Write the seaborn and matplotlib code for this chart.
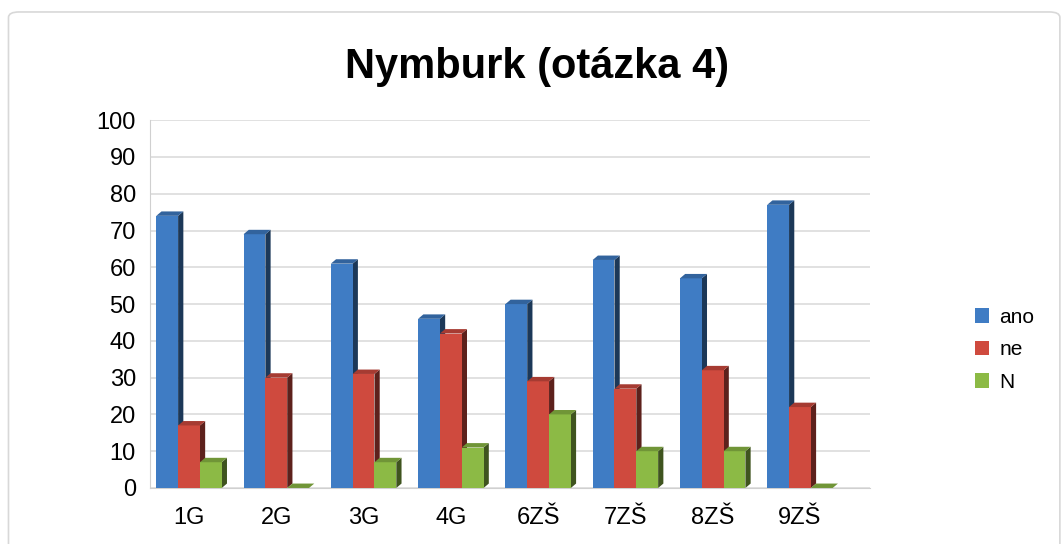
import pandas as pd
import matplotlib.pyplot as plt
import seaborn as sns
from matplotlib.patches import Polygon, FancyBboxPatch
import matplotlib.colors as mcolors

tridy = ['1G', '2G', '3G', '4G', '6ZŠ', '7ZŠ', '8ZŠ', '9ZŠ']
ano = [74, 69, 61, 46, 50, 62, 57, 77]
ne = [17, 30, 31, 42, 29, 27, 32, 22]
nevim = [7, 0, 7, 11, 20, 10, 10, 0]

serie = ['ano', 'ne', 'N']
barvy = ['#3f7cc4', '#cf4a3e', '#8cba45']

data = pd.DataFrame({'třída': tridy, 'ano': ano, 'ne': ne, 'N': nevim})
melted = pd.melt(data, id_vars=['třída'], value_vars=serie,
                 var_name='odpověď', value_name='hodnota')

sns.set_style('white')
plt.rcParams['font.family'] = ['Liberation Sans', 'DejaVu Sans']
plt.rcParams['text.color'] = 'black'
plt.rcParams['xtick.color'] = 'black'
plt.rcParams['ytick.color'] = 'black'

fig = plt.figure(figsize=(10.62, 5.44), dpi=100)
ax = fig.add_axes([0.141, 0.103, 0.678, 0.676])

# rounded frame around the whole chart
fig.patches.append(FancyBboxPatch((0.008, -0.05), 0.99, 1.028,
                                  boxstyle='round,pad=0,rounding_size=0.01',
                                  transform=fig.transFigure, fill=False,
                                  edgecolor='#d8d8d8', linewidth=1.2))

sns.barplot(data=melted, x='třída', y='hodnota', hue='odpověď',
            hue_order=serie, palette=barvy, width=0.75, saturation=1,
            linewidth=0, ax=ax, zorder=3, legend=True)

# fake 3D side and top faces from the bar geometry
dx, dy = 0.06, 1.2
for bar in list(ax.patches):
    x0, w, h = bar.get_x(), bar.get_width(), bar.get_height()
    if w == 0:
        continue
    c = mcolors.to_rgb(bar.get_facecolor())
    side = tuple(v * 0.45 for v in c)
    top = tuple(v * 0.8 for v in c)
    ax.add_patch(Polygon([(x0 + w, 0), (x0 + w + dx, dy),
                          (x0 + w + dx, h + dy), (x0 + w, h)],
                         closed=True, facecolor=side, edgecolor='none', zorder=2.5))
    ax.add_patch(Polygon([(x0, h), (x0 + dx, h + dy),
                          (x0 + w + dx, h + dy), (x0 + w, h)],
                         closed=True, facecolor=top, edgecolor='none', zorder=3.5))

ax.set_ylim(0, 100)
ax.set_xlim(-0.45, 7.8)
ax.set_yticks(range(0, 101, 10))
ax.yaxis.grid(True, color='#dcdcdc', linewidth=1.2, zorder=0)
ax.set_xlabel('')
ax.set_ylabel('')
for s in ['top', 'right']:
    ax.spines[s].set_visible(False)
ax.spines['left'].set_color('#d0d0d0')
ax.spines['bottom'].set_color('#d0d0d0')
ax.tick_params(axis='y', labelsize=17, pad=10, length=0)
ax.tick_params(axis='x', labelsize=17, pad=14, length=0)

fig.text(0.506, 0.877, 'Nymburk (otázka 4)', ha='center', va='center',
         fontsize=30, fontweight='bold')

ax.legend(loc='center left', bbox_to_anchor=(0.9, 0.357),
          bbox_transform=fig.transFigure, frameon=False, fontsize=15,
          handlelength=0.7, handleheight=0.7, handletextpad=0.5,
          labelspacing=0.65, title=None)

fig.savefig('out.png', dpi=100)
